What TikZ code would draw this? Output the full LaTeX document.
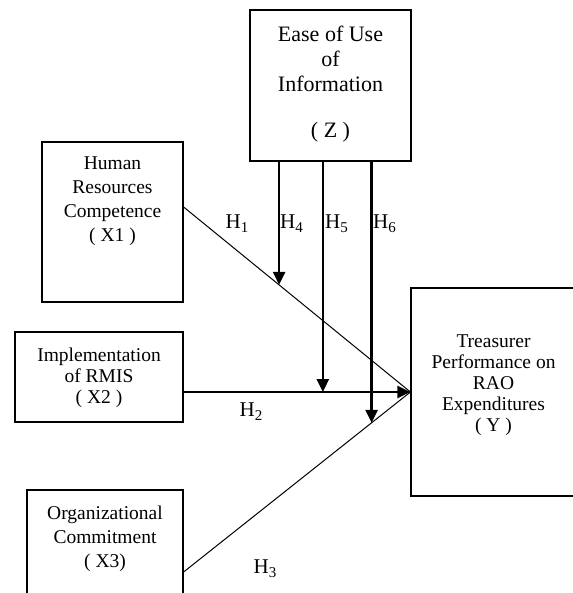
\documentclass[tikz,border=0pt]{standalone}
\usepackage{fontspec}
\setmainfont{Liberation Serif}
\usetikzlibrary{positioning,arrows.meta}
\newcommand{\hsub}[1]{H\raisebox{-4pt}{\fontsize{15}{15}\selectfont #1}}

\begin{document}
\begin{tikzpicture}[x=1pt, y=-1pt, box/.style={draw, line width=1.2pt, inner sep=0pt}, txt/.style={align=center, inner sep=0pt, font=\fontsize{19.5}{24}\selectfont}, hyp/.style={inner sep=0pt, font=\fontsize{21}{24}\selectfont}, link/.style={line width=1pt}, effect/.style={line width=2.5pt, -{Triangle[length=13pt,width=12pt]}}]
  \useasboundingbox (0,0) rectangle (572,593);
  \node[box, minimum width=161, minimum height=151] (Z) at (330.5,85.5) {};
  \node[box, minimum width=141, minimum height=160] (X1) at (112.5,222) {};
  \node[box, minimum width=168, minimum height=90] (X2) at (99,377) {};
  \node[box, minimum width=156, minimum height=110] (X3) at (105,545) {};
  \node[box, minimum width=165, minimum height=208] (Y) at (493.5,392) {};
  \node[txt, font=\fontsize{22}{25}\selectfont, below=16pt of Z.north] (Ztext) {Ease of Use\\of\\Information\\[21pt]( Z )};
  \node[txt, below=15pt of X1.north] (X1text) {Human\\Resources\\Competence\\( X1 )};
  \node[txt, font=\fontsize{19.5}{21}\selectfont, below=16.5pt of X2.north] (X2text) {Implementation\\of RMIS\\( X2 )};
  \node[txt, below=16pt of X3.north] (X3text) {Organizational\\Commitment\\( X3)};
  \node[txt, font=\fontsize{19.5}{21}\selectfont, below=47pt of Y.north] (Ytext) {Treasurer\\Performance on\\RAO\\Expenditures\\( Y )};
  \draw[link] ([yshift=15pt]X1.east) -- coordinate[pos=0.421] (h4) (Y.west);
  \draw[link] ([yshift=-27pt]X3.east) -- coordinate[pos=0.829] (h6) (Y.west);
  \draw[effect] ([yshift=-15pt]X2.east) -- coordinate[pos=0.614] (h5) (Y.west);
  \draw[effect] (h4 |- Z.south) -- (h4);
  \draw[effect] (h5 |- Z.south) -- (h5);
  \draw[effect] (h6 |- Z.south) -- (h6);
  \node[hyp] (H1) at (237,224) {\hsub{1}};
  \node[hyp, anchor=west] (H4) at (280,224) {\hsub{4}};
  \node[hyp, anchor=west] (H5) at (325,224) {\hsub{5}};
  \node[hyp, anchor=west] (H6) at (373,224) {\hsub{6}};
  \node[hyp] (H2) at (251,412) {\hsub{2}};
  \node[hyp] (H3) at (265,569) {\hsub{3}};
\end{tikzpicture}
\end{document}
